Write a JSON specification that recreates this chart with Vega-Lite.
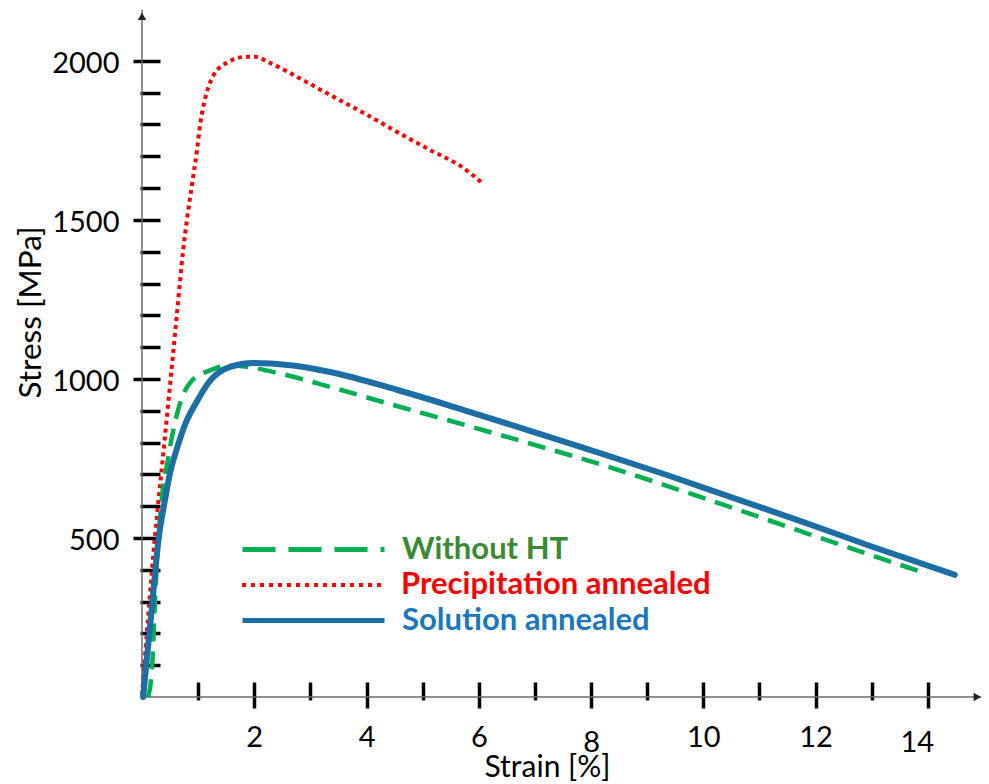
{
  "$schema": "https://vega.github.io/schema/vega-lite/v6.json",
  "width": 842,
  "height": 687,
  "autosize": {"type": "none"},
  "padding": {"left": 142, "top": 10, "right": 5, "bottom": 87},
  "background": "white",
  "config": {"view": {"stroke": null}, "font": "Lato", "axis": {"grid": false}},
  "datasets": {
    "curves": [
      {"series": "Precipitation annealed", "strain": 0.0, "stress": 5},
      {"series": "Precipitation annealed", "strain": 0.23, "stress": 503},
      {"series": "Precipitation annealed", "strain": 0.37, "stress": 750},
      {"series": "Precipitation annealed", "strain": 0.51, "stress": 1000},
      {"series": "Precipitation annealed", "strain": 0.62, "stress": 1200},
      {"series": "Precipitation annealed", "strain": 0.73, "stress": 1400},
      {"series": "Precipitation annealed", "strain": 0.8, "stress": 1500},
      {"series": "Precipitation annealed", "strain": 0.89, "stress": 1610},
      {"series": "Precipitation annealed", "strain": 0.98, "stress": 1720},
      {"series": "Precipitation annealed", "strain": 1.04, "stress": 1805},
      {"series": "Precipitation annealed", "strain": 1.12, "stress": 1878},
      {"series": "Precipitation annealed", "strain": 1.26, "stress": 1950},
      {"series": "Precipitation annealed", "strain": 1.51, "stress": 1994},
      {"series": "Precipitation annealed", "strain": 1.87, "stress": 2013},
      {"series": "Precipitation annealed", "strain": 2.01, "stress": 2013},
      {"series": "Precipitation annealed", "strain": 2.28, "stress": 1994},
      {"series": "Precipitation annealed", "strain": 2.76, "stress": 1950},
      {"series": "Precipitation annealed", "strain": 3.35, "stress": 1893},
      {"series": "Precipitation annealed", "strain": 3.94, "stress": 1837},
      {"series": "Precipitation annealed", "strain": 4.54, "stress": 1777},
      {"series": "Precipitation annealed", "strain": 5.13, "stress": 1720},
      {"series": "Precipitation annealed", "strain": 5.72, "stress": 1664},
      {"series": "Precipitation annealed", "strain": 6.08, "stress": 1613},
      {"series": "Without HT", "strain": 0.11, "stress": 0},
      {"series": "Without HT", "strain": 0.18, "stress": 94},
      {"series": "Without HT", "strain": 0.23, "stress": 296},
      {"series": "Without HT", "strain": 0.29, "stress": 494},
      {"series": "Without HT", "strain": 0.37, "stress": 651},
      {"series": "Without HT", "strain": 0.45, "stress": 735},
      {"series": "Without HT", "strain": 0.53, "stress": 815},
      {"series": "Without HT", "strain": 0.68, "stress": 925},
      {"series": "Without HT", "strain": 0.89, "stress": 995},
      {"series": "Without HT", "strain": 1.21, "stress": 1027},
      {"series": "Without HT", "strain": 1.55, "stress": 1042},
      {"series": "Without HT", "strain": 1.87, "stress": 1038},
      {"series": "Without HT", "strain": 2.46, "stress": 1017},
      {"series": "Without HT", "strain": 3.35, "stress": 975},
      {"series": "Without HT", "strain": 4.54, "stress": 915},
      {"series": "Without HT", "strain": 5.72, "stress": 857},
      {"series": "Without HT", "strain": 6.91, "stress": 797},
      {"series": "Without HT", "strain": 8.16, "stress": 732},
      {"series": "Without HT", "strain": 9.35, "stress": 664},
      {"series": "Without HT", "strain": 10.53, "stress": 594},
      {"series": "Without HT", "strain": 11.72, "stress": 522},
      {"series": "Without HT", "strain": 12.92, "stress": 450},
      {"series": "Without HT", "strain": 13.99, "stress": 387},
      {"series": "Solution annealed", "strain": 0.02, "stress": 0},
      {"series": "Solution annealed", "strain": 0.16, "stress": 252},
      {"series": "Solution annealed", "strain": 0.3, "stress": 503},
      {"series": "Solution annealed", "strain": 0.41, "stress": 620},
      {"series": "Solution annealed", "strain": 0.5, "stress": 705},
      {"series": "Solution annealed", "strain": 0.62, "stress": 780},
      {"series": "Solution annealed", "strain": 0.77, "stress": 858},
      {"series": "Solution annealed", "strain": 0.98, "stress": 930},
      {"series": "Solution annealed", "strain": 1.21, "stress": 994},
      {"series": "Solution annealed", "strain": 1.57, "stress": 1038},
      {"series": "Solution annealed", "strain": 1.98, "stress": 1050},
      {"series": "Solution annealed", "strain": 2.64, "stress": 1043},
      {"series": "Solution annealed", "strain": 3.35, "stress": 1022},
      {"series": "Solution annealed", "strain": 4.54, "stress": 966},
      {"series": "Solution annealed", "strain": 5.72, "stress": 903},
      {"series": "Solution annealed", "strain": 6.91, "stress": 837},
      {"series": "Solution annealed", "strain": 8.16, "stress": 767},
      {"series": "Solution annealed", "strain": 9.35, "stress": 698},
      {"series": "Solution annealed", "strain": 10.53, "stress": 626},
      {"series": "Solution annealed", "strain": 11.72, "stress": 554},
      {"series": "Solution annealed", "strain": 12.92, "stress": 478},
      {"series": "Solution annealed", "strain": 14.48, "stress": 384}
    ]
  },
  "data": {"name": "curves"},
  "encoding": {
    "x": {
      "field": "strain",
      "type": "quantitative",
      "scale": {"domain": [0, 15], "nice": false, "zero": false},
      "axis": {
        "title": "Strain [%]",
        "values": [1, 2, 3, 4, 5, 6, 7, 8, 9, 10, 11, 12, 13, 14],
        "format": "d",
        "domain": false,
        "grid": false,
        "offset": -15,
        "tickColor": "black",
        "tickWidth": 3.5,
        "tickSize": {"condition": {"test": "datum.value % 2 === 0", "value": 26}, "value": 18},
        "labelExpr": "datum.value % 2 === 0 ? datum.label : ''",
        "labelOverlap": false,
        "labelFlush": false,
        "labelFont": "Lato",
        "labelFontSize": 29,
        "labelColor": "black",
        "labelPadding": {"condition": {"test": "datum.value === 8 || datum.value === 14", "value": 20}, "value": 15},
        "labelOffset": {"condition": {"test": "datum.value === 14", "value": -11}, "value": 0},
        "titleFont": "Lato",
        "titleFontSize": 30,
        "titleFontWeight": "normal",
        "titleColor": "black",
        "titleX": 405,
        "titleY": 94,
        "titleBaseline": "alphabetic",
        "titleAlign": "center"
      }
    },
    "y": {
      "field": "stress",
      "type": "quantitative",
      "scale": {"domain": [0, 2160], "nice": false},
      "axis": {
        "title": "Stress [MPa]",
        "values": [100, 200, 300, 400, 500, 600, 700, 800, 900, 1000, 1100, 1200, 1300, 1400, 1500, 1600, 1700, 1800, 1900, 2000],
        "format": "d",
        "domain": false,
        "grid": false,
        "offset": -18,
        "tickColor": "black",
        "tickWidth": 3.5,
        "tickSize": {"condition": {"test": "datum.value % 500 === 0", "value": 27}, "value": 20},
        "labelExpr": "datum.value % 500 === 0 ? datum.label : ''",
        "labelOverlap": false,
        "labelFlush": false,
        "labelFont": "Lato",
        "labelFontSize": 29,
        "labelColor": "black",
        "labelPadding": 14,
        "labelOffset": 3,
        "titleFont": "Lato",
        "titleFontSize": 31.5,
        "titleFontWeight": "normal",
        "titleColor": "black",
        "titleX": -129,
        "titleY": 302,
        "titleBaseline": "middle",
        "titleAlign": "center",
        "titleAngle": -90
      }
    }
  },
  "layer": [
    {
      "data": {"values": [{"strain": 0, "stress": 0, "stress_top": 2160}]},
      "mark": {"type": "rule", "color": "#6b6b6b", "strokeWidth": 1.5},
      "encoding": {"y2": {"field": "stress_top"}}
    },
    {
      "data": {"values": [{"strain": 0, "strain_end": 14.95, "stress": 0}]},
      "mark": {"type": "rule", "color": "#6b6b6b", "strokeWidth": 1.5},
      "encoding": {"x2": {"field": "strain_end"}}
    },
    {
      "data": {"values": [{"strain": 0, "stress": 2140}]},
      "mark": {"type": "point", "shape": "triangle-up", "filled": true, "color": "#222222", "size": 70, "opacity": 1},
      "encoding": {}
    },
    {
      "data": {"values": [{"strain": 14.88, "stress": 0}]},
      "mark": {"type": "point", "shape": "triangle-right", "filled": true, "color": "#222222", "size": 70, "opacity": 1},
      "encoding": {}
    },
    {
      "transform": [{"filter": "datum.series === 'Precipitation annealed'"}],
      "mark": {"type": "line", "strokeDash": [4, 4], "strokeWidth": 4, "interpolate": "monotone", "strokeCap": "butt"},
      "encoding": {
        "color": {
          "field": "series",
          "type": "nominal",
          "scale": {"domain": ["Precipitation annealed"], "range": ["#ff0000"]},
          "legend": {"orient": "none", "legendX": 98, "legendY": 502, "title": null, "padding": 0, "symbolType": "stroke", "symbolSize": 20164, "symbolStrokeWidth": 4, "symbolDash": [4, 5], "labelFont": "Lato", "labelFontWeight": "bold", "labelFontSize": 31, "labelColor": "#ff0000", "labelOffset": 15, "labelLimit": 600}
        }
      }
    },
    {
      "transform": [{"filter": "datum.series === 'Without HT'"}],
      "mark": {"type": "line", "strokeDash": [18, 10], "strokeWidth": 4.5, "interpolate": "monotone", "strokeCap": "butt"},
      "encoding": {
        "color": {
          "field": "series",
          "type": "nominal",
          "scale": {"domain": ["Without HT"], "range": ["#00b050"]},
          "legend": {"orient": "none", "legendX": 98, "legendY": 466, "title": null, "padding": 0, "symbolType": "stroke", "symbolSize": 20164, "symbolStrokeWidth": 5, "symbolDash": [33, 13], "labelFont": "Lato", "labelFontWeight": "bold", "labelFontSize": 31, "labelColor": "#3a8a33", "labelOffset": 15, "labelLimit": 600}
        }
      }
    },
    {
      "transform": [{"filter": "datum.series === 'Solution annealed'"}],
      "mark": {"type": "line", "strokeWidth": 6, "interpolate": "monotone", "strokeCap": "round"},
      "encoding": {
        "color": {
          "field": "series",
          "type": "nominal",
          "scale": {"domain": ["Solution annealed"], "range": ["#1c6ea4"]},
          "legend": {"orient": "none", "legendX": 98, "legendY": 537, "title": null, "padding": 0, "symbolType": "stroke", "symbolSize": 20164, "symbolStrokeWidth": 5, "labelFont": "Lato", "labelFontWeight": "bold", "labelFontSize": 31, "labelColor": "#1a77c0", "labelOffset": 15, "labelLimit": 600}
        }
      }
    }
  ],
  "resolve": {"scale": {"color": "independent"}}
}
